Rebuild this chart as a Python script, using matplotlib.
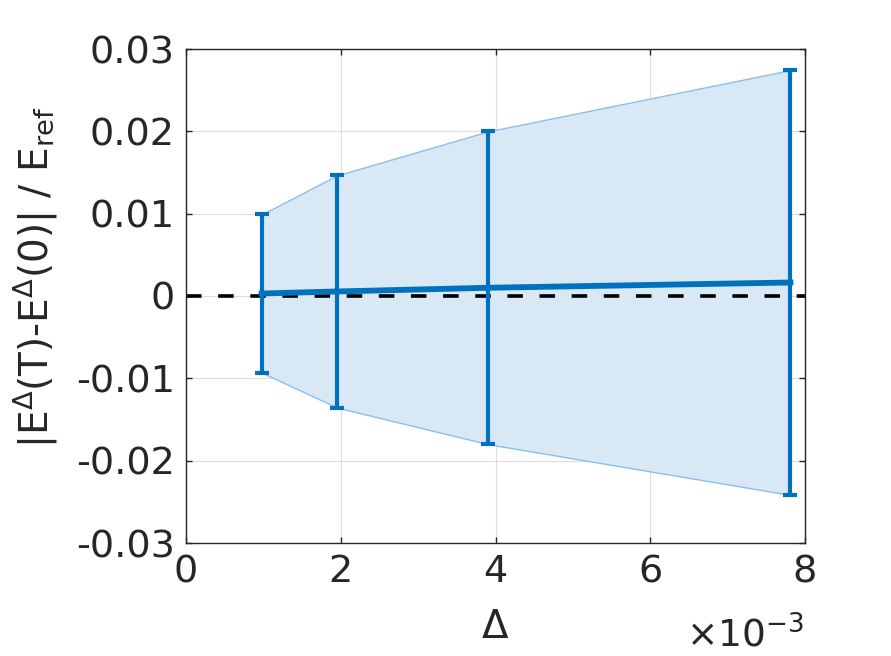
import matplotlib
matplotlib.use("Agg")
import matplotlib.pyplot as plt
import numpy as np

# step sizes (1/1024 ... 1/128)
delta = [1 / 1024, 1 / 512, 1 / 256, 1 / 128]
mean_err = [0.0003, 0.00055, 0.0010, 0.00164]
half_width = [0.0096, 0.0141, 0.0190, 0.0258]

xticks = [0, 2e-3, 4e-3, 6e-3, 8e-3]
xticklabels = ["0", "2", "4", "6", "8"]
yticks = [-0.03, -0.02, -0.01, 0, 0.01, 0.02, 0.03]
yticklabels = ["-0.03", "-0.02", "-0.01", "0", "0.01", "0.02", "0.03"]

BLUE = (0, 0.447, 0.741)
FILL = (0.85, 0.91, 0.96)
EDGE = (0.55, 0.75, 0.92)
DARK = (0.15, 0.15, 0.15)

plt.rcParams["font.family"] = "DejaVu Sans"
plt.rcParams["mathtext.default"] = "regular"

fig = plt.figure(figsize=(8.91, 6.56), dpi=100)
ax = fig.add_axes([186 / 891, 1 - 543 / 656, (805 - 186) / 891, (543 - 49) / 656])

x = np.array(delta)
m = np.array(mean_err)
h = np.array(half_width)

ax.fill_between(x, m - h, m + h, facecolor=FILL, edgecolor=EDGE, linewidth=1, zorder=1)
ax.axhline(0, color="black", linestyle=(0, (4.3, 4.6)), linewidth=2.6, zorder=2)
ax.errorbar(x, m, yerr=h, color=BLUE, linewidth=4.2, elinewidth=3, capsize=4.7,
            capthick=3, zorder=3)

ax.set_xlim(0, 8e-3)
ax.set_ylim(-0.03, 0.03)
ax.set_xticks(xticks)
ax.set_xticklabels(xticklabels)
ax.set_yticks(yticks)
ax.set_yticklabels(yticklabels)
ax.grid(True, color=(0.15, 0.15, 0.15), alpha=0.15, linewidth=0.8)
ax.set_axisbelow(True)

ax.tick_params(direction="in", length=4.5, width=1, colors=DARK, labelsize=27.5,
               top=True, right=True, pad=8)
for s in ax.spines.values():
    s.set_color(DARK)
    s.set_linewidth(1)

ax.set_xlabel("Δ", fontsize=28, color=DARK, labelpad=13)
ax.set_ylabel(r"|E$^{Δ}$(T)-E$^{Δ}$(0)| / E$_{ref}$", fontsize=28, color=DARK)
ax.yaxis.set_label_coords(-0.205, 0.538)
ax.text(0.998, -0.2105, r"×10$^{-3}$", transform=ax.transAxes, ha="right",
        va="baseline", fontsize=27, color=DARK)

fig.savefig("out.png", dpi=100)
